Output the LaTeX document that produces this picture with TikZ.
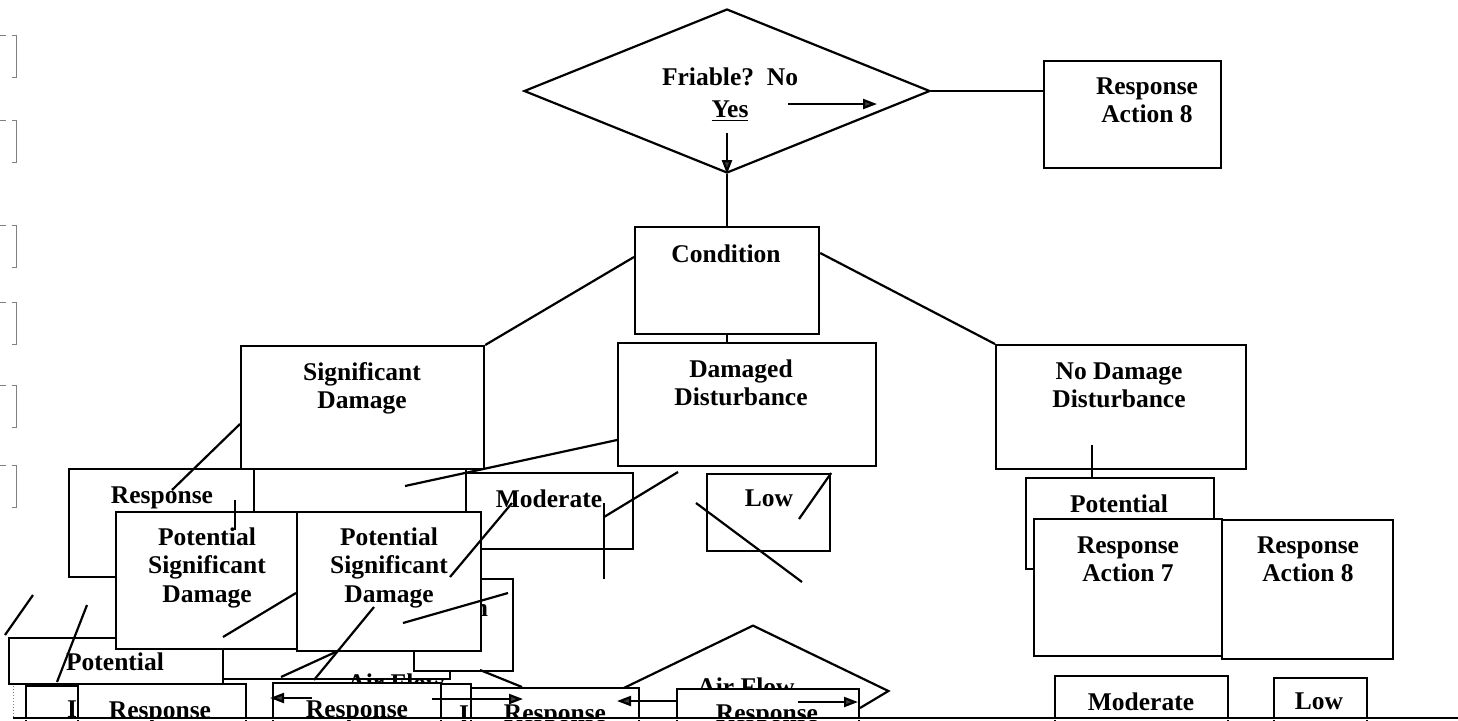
\documentclass[tikz,border=0pt]{standalone}
\usepackage{fontspec}
\setmainfont{Liberation Serif}
\usetikzlibrary{shapes.geometric,arrows.meta}

\newcommand{\lblfont}{\fontsize{12.75}{14.25}\selectfont\bfseries}
\newcommand{\panel}[5]{\node[box, minimum width={(#4-#2)*0.5pt}, minimum height={(#5-#3)*0.5pt}] (#1) at (#2,#3) {};}
\tikzset{
  box/.style={draw, fill=white, line width=1.1pt, inner sep=0pt, anchor=north west},
  txt/.style={font=\lblfont, align=center, anchor=north, inner sep=0pt},
  link/.style={line width=1.1pt},
  flow/.style={line width=1.1pt, -{Triangle[length=7pt,width=5pt,fill=darkgray]}},
  margin/.style={gray, line width=0.5pt},
}

\begin{document}
\begin{tikzpicture}[x=0.5pt, y=-0.5pt]
  \useasboundingbox (0,0) rectangle (1458,720);
  \clip (0,0) rectangle (1458,720);

  % punch marks on the left
  \foreach \t in {35,120,225,302,385,465} {
    \draw[margin, dashed] (0,\t) -- (16,\t);
    \draw[margin] (16,\t) -- (16,\t+42) -- (12,\t+42);
  }
  \draw[margin, densely dotted] (13,650) -- (13,720);

  % friable?
  \node[diamond, draw, link, minimum width=203pt, minimum height=82pt, inner sep=0pt] (friable) at (727,91) {};
  \node[txt] (friable-t) at (730,67) {Friable?~~No\\[2pt]\underline{Yes}};
  \panel{ra8}{1043}{60}{1220}{167}
  \node[txt] (ra8-t) at (1147,77) {Response\\Action 8};
  \draw[link] (friable.east) -- (ra8.west |- friable.east);
  \coordinate (no-a) at (788,104);
  \coordinate (no-b) at (877,104);
  \draw[flow] (no-a) -- (no-b);
  \coordinate (yes-a) at (727,133);
  \draw[flow] (yes-a) -- (friable.south);

  \panel{cond}{634}{226}{818}{333}
  \node[txt] (cond-t) at (726,244) {Condition};
  \draw[link] (friable.south) -- (friable.south |- cond.north);

  % condition classes
  \panel{sig}{240}{345}{483}{468}
  \node[txt] (sig-t) at (362,362) {Significant\\Damage};
  \panel{dam}{617}{342}{875}{465}
  \node[txt] (dam-t) at (741,359) {Damaged\\Disturbance};
  \panel{nodam}{995}{344}{1245}{468}
  \node[txt] (nodam-t) at (1119,362) {No Damage\\Disturbance};
  \draw[link] ([yshift=-15.5pt]cond.north west) -- (sig.north east);
  \draw[link] ([yshift=-13.5pt]cond.north east) -- (nodam.north west);
  \draw[link] (cond.south) -- (cond.south |- dam.north);

  % second row, left
  \panel{resp}{68}{468}{253}{576}
  \node[txt] (resp-t) at (162,486) {Response};
  \panel{mid}{253}{468}{465}{560}
  \panel{mod}{465}{472}{632}{548}
  \node[txt] (mod-t) at (549,489) {Moderate};
  \panel{low}{706}{473}{829}{550}
  \node[txt] (low-t) at (769,489) {Low};
  \draw[link] ([yshift=-39.5pt]sig.north west) -- (172,490);
  \draw[link] ([yshift=-49pt]dam.north west) -- (405,486);
  \draw[link] (678,472) -- (604,517);
  \draw[link] (604,503) -- (604,579);
  \draw[link] (low.north east) -- (799,519);
  \draw[link] (696,503) -- (802,582);

  % boxes under the potential ones
  \panel{air}{222}{560}{449}{678}
  \node[txt] (air-t) at (396,673) {Air Flow};
  \panel{high}{413}{578}{512}{670}
  \node[txt] (high-t) at (461,598) {High};
  \panel{pot}{8}{637}{222}{683}
  \node[txt] (pot-t) at (115,652) {Potential};

  \panel{psd1}{115}{511}{296}{648}
  \node[txt] (psd1-t) at (207,527) {Potential\\Significant\\Damage};
  \panel{psd2}{296}{511}{480}{650}
  \node[txt] (psd2-t) at (389,527) {Potential\\Significant\\Damage};
  \draw[link] (235,500) -- (235,530);
  \draw[link] (512,503) -- (450,577);
  \draw[link] (296,593) -- (223,637);
  \draw[link] (508,593) -- (403,623);
  \draw[link] (374,607) -- (314,680);
  \draw[link] (340,650) -- (281,677);
  \draw[link] (480,670) -- (522,687);

  % air flow
  \node[diamond, minimum width=135pt, minimum height=65pt, inner sep=0pt] (flowq) at (753,691) {};
  \draw[link] (flowq.west) -- (flowq.north) -- (flowq.east) -- (860,708);
  \node[txt] (flowq-t) at (746,677) {Air Flow};

  % bottom row
  \panel{b0}{25}{685}{77}{730}
  \node[txt] (b0-t) at (72,700) {I};
  \panel{b1}{77}{683}{245}{730}
  \node[txt] (b1-t) at (160,701) {Response};
  \panel{b2}{272}{682}{440}{730}
  \node[txt] (b2-t) at (357,700) {Response};
  \panel{b3}{440}{683}{470}{730}
  \node[txt] (b3-t) at (464,705) {I};
  \panel{b4}{470}{687}{638}{730}
  \node[txt] (b4-t) at (555,704) {Response};
  \panel{b5}{676}{688}{858}{730}
  \node[txt] (b5-t) at (767,704) {Response};
  \draw[flow] (312,698) -- (270,698);
  \draw[flow] (432,699) -- (523,699);
  \draw[flow] (676,701) -- (617,701);
  \draw[flow] (798,702) -- (858,702);

  % no damage branch
  \draw[link] (1092,445) -- (1092,478);
  \panel{potr}{1025}{477}{1213}{568}
  \node[txt] (potr-t) at (1119,494) {Potential};
  \panel{ra7}{1033}{518}{1221}{655}
  \node[txt] (ra7-t) at (1128,536) {Response\\Action 7};
  \panel{ra8b}{1221}{519}{1392}{658}
  \node[txt] (ra8b-t) at (1308,536) {Response\\Action 8};
  \panel{modr}{1054}{675}{1227}{730}
  \node[txt] (modr-t) at (1141,692) {Moderate};
  \panel{lowr}{1273}{677}{1366}{730}
  \node[txt] (lowr-t) at (1319,692) {Low};

  % strokes at the left edge
  \draw[link] (33,595) -- (5,635);
  \draw[link] (87,605) -- (57,682);

  \fill[white] (0,718) rectangle (1458,720);
  \draw[line width=1.1pt] (13,718) -- (1458,718);
\end{tikzpicture}
\end{document}
